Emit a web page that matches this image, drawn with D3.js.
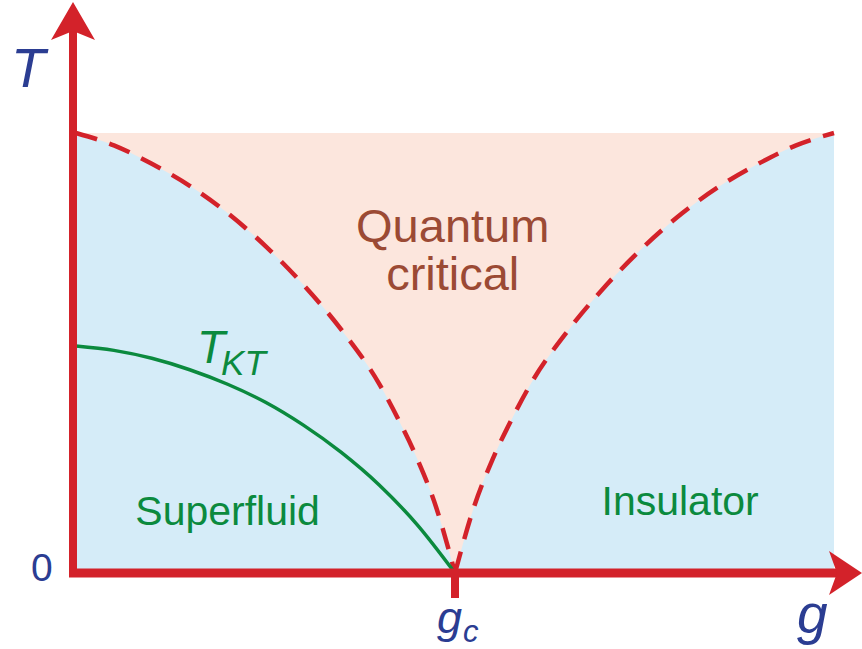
<!DOCTYPE html>
<html>
<head>
<meta charset="utf-8">
<script src="https://cdn.jsdelivr.net/npm/d3@7"></script>
<style>
  body { margin: 0; background: #fff; }
  svg { display: block; }
  text { font-family: "Liberation Sans", Arial, Helvetica, sans-serif; }
</style>
</head>
<body>
<svg id="chart" width="862" height="649"></svg>
<script>
// ---- data (g and T in reduced units, gc = critical coupling) ----
var gc = 0.5;
var gMax = 1.0, tMax = 1.0;

// crossover lines T*(g): distance from gc vs temperature (same on both sides)
var critDg = [0, 0.025, 0.05, 0.075, 0.1, 0.15, 0.2, 0.25, 0.3, 0.35, 0.4, 0.45, 0.5];
var critT  = [0, 0.15, 0.26, 0.35, 0.43, 0.553, 0.655, 0.743, 0.818, 0.88, 0.93, 0.972, 1.0];

// Kosterlitz-Thouless transition line
var tktG = [0, 0.05, 0.1, 0.15, 0.2, 0.25, 0.3, 0.35, 0.4, 0.45, 0.5];
var tktT = [0.516, 0.506, 0.488, 0.462, 0.429, 0.388, 0.336, 0.274, 0.2, 0.11, 0];

var regionLabels = [
  {lines: ["Quantum", "critical"], g: 0.497, T: 0.753, cls: "qc"},
  {lines: ["Superfluid"], g: 0.200, T: 0.109, cls: "sf"},
  {lines: ["Insulator"], g: 0.797, T: 0.132, cls: "ins"}
];

//---------------------------------------
var red = "#d3222a", blue = "#2b3d92", green = "#0b8a3e", brown = "#9b4a34";
var svg = d3.select("#chart");

var x = d3.scaleLinear().domain([0, gMax]).range([76, 834]);
var y = d3.scaleLinear().domain([0, tMax]).range([573, 133]);

// both lists ordered by increasing g
var leftCurve = critT.map(function(t, i) { return [gc - critDg[i], t]; }).reverse();
var rightCurve = critT.map(function(t, i) { return [gc + critDg[i], t]; });

var line = d3.line()
    .x(function(d) { return x(d[0]); })
    .y(function(d) { return y(d[1]); })
    .curve(d3.curveMonotoneX);

// background: ordered phases
svg.append("rect")
    .attr("x", x(0)).attr("y", y(tMax))
    .attr("width", x(gMax) - x(0)).attr("height", y(0) - y(tMax))
    .attr("fill", "#d5ecf8");

// quantum critical fan (closed along the top edge)
svg.append("path")
    .attr("d", line(leftCurve) + "L" + line(rightCurve).slice(1) + "Z")
    .attr("fill", "#fce6dd");

// dashed crossover lines
[leftCurve, rightCurve].forEach(function(c) {
  svg.append("path")
      .attr("d", line(c))
      .attr("fill", "none")
      .attr("stroke", red)
      .attr("stroke-width", 4.5)
      .attr("stroke-dasharray", "22,13");
});

// KT line
svg.append("path")
    .attr("d", line(tktG.map(function(g, i) { return [g, tktT[i]]; })))
    .attr("fill", "none")
    .attr("stroke", green)
    .attr("stroke-width", 3.5);

//---------------------------------------
// axes with arrows
var ax = svg.append("g").attr("fill", red).attr("stroke", red);
var ux = x(0) - 3;
ax.append("line")
    .attr("x1", ux).attr("x2", ux)
    .attr("y1", y(0) + 4).attr("y2", 30)
    .attr("stroke-width", 8);
ax.append("line")
    .attr("x1", x(0) - 7).attr("x2", 845)
    .attr("y1", y(0)).attr("y2", y(0))
    .attr("stroke-width", 9);
ax.append("line")
    .attr("x1", x(gc)).attr("x2", x(gc))
    .attr("y1", y(0)).attr("y2", y(0) + 25)
    .attr("stroke-width", 8);
ax.append("path")
    .attr("stroke", "none")
    .attr("d", "M" + ux + ",2L" + (ux + 22) + ",40L" + ux + ",31L" + (ux - 22) + ",40Z");
ax.append("path")
    .attr("stroke", "none")
    .attr("d", "M862," + y(0) + "L829," + (y(0) - 22) + "L837," + y(0) + "L829," + (y(0) + 22) + "Z");

// axis labels
svg.append("text").attr("x", 11).attr("y", 87)
    .attr("font-size", 56).attr("font-style", "italic").attr("fill", blue).text("T");
svg.append("text").attr("x", 31).attr("y", 581)
    .attr("font-size", 39).attr("fill", blue).text("0");
var gcl = svg.append("text").attr("x", x(gc) - 18).attr("y", 633)
    .attr("font-size", 45).attr("font-style", "italic").attr("fill", blue);
gcl.append("tspan").text("g");
gcl.append("tspan").attr("font-size", 31).attr("dy", 9).attr("dx", 1).text("c");
svg.append("text").attr("x", 797).attr("y", 633)
    .attr("font-size", 55).attr("font-style", "italic").attr("fill", blue).text("g");

// T_KT label
var tkt = svg.append("text").attr("x", 197).attr("y", 363)
    .attr("font-size", 46).attr("font-style", "italic").attr("fill", green);
tkt.append("tspan").text("T");
tkt.append("tspan").attr("font-size", 35).attr("dy", 12).attr("dx", -4).text("KT");

// region labels
regionLabels.forEach(function(r) {
  var t = svg.append("text")
      .attr("x", x(r.g)).attr("y", y(r.T))
      .attr("text-anchor", "middle")
      .attr("font-size", r.cls === "qc" ? 47 : 41)
      .attr("fill", r.cls === "qc" ? brown : green);
  r.lines.forEach(function(s, i) {
    t.append("tspan").attr("x", x(r.g)).attr("dy", i ? 48 : 0).text(s);
  });
});
</script>
</body>
</html>
